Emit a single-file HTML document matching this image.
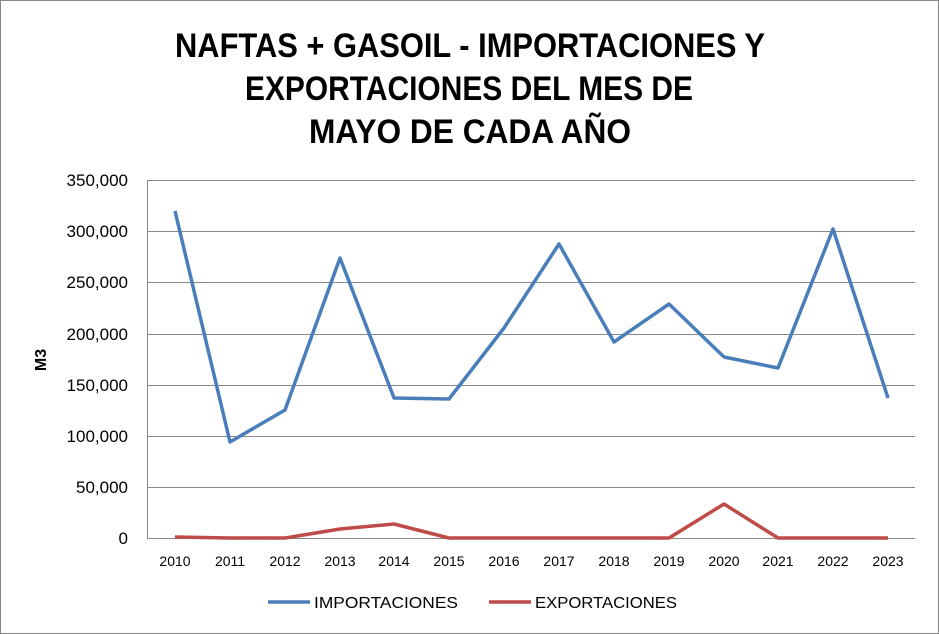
<!DOCTYPE html>
<html><head><meta charset="utf-8"><style>
html,body{margin:0;padding:0;background:#fff}
svg{display:block;font-family:"Liberation Sans",sans-serif}
</style></head><body>
<svg width="939" height="634" viewBox="0 0 939 634" xmlns="http://www.w3.org/2000/svg">
<rect x="0.5" y="0.5" width="938" height="633" fill="#fff" stroke="#888"/>
<g font-weight="bold" font-size="34" fill="#000">
<text x="175" y="57" textLength="590" lengthAdjust="spacingAndGlyphs">NAFTAS + GASOIL - IMPORTACIONES Y</text>
<text x="245" y="100" textLength="448" lengthAdjust="spacingAndGlyphs">EXPORTACIONES DEL MES DE</text>
<text x="309" y="143" textLength="322" lengthAdjust="spacingAndGlyphs">MAYO DE CADA AÑO</text>
</g>
<g stroke="#888" stroke-width="1">
<line x1="147" y1="180.5" x2="915" y2="180.5"/>
<line x1="147" y1="231.5" x2="915" y2="231.5"/>
<line x1="147" y1="282.5" x2="915" y2="282.5"/>
<line x1="147" y1="334.5" x2="915" y2="334.5"/>
<line x1="147" y1="385.5" x2="915" y2="385.5"/>
<line x1="147" y1="436.5" x2="915" y2="436.5"/>
<line x1="147" y1="487.5" x2="915" y2="487.5"/>
<line x1="147" y1="538.5" x2="915" y2="538.5"/>
<line x1="147.5" y1="180" x2="147.5" y2="538"/>
</g>
<g font-size="17" text-anchor="end" fill="#000">
<text x="128" y="186">350,000</text>
<text x="128" y="237">300,000</text>
<text x="128" y="288">250,000</text>
<text x="128" y="340">200,000</text>
<text x="128" y="391">150,000</text>
<text x="128" y="442">100,000</text>
<text x="128" y="493">50,000</text>
<text x="128" y="544">0</text>
</g>
<text x="46" y="360" font-size="16" font-weight="bold" transform="rotate(-90 46 360)" text-anchor="middle">M3</text>
<g font-size="14" text-anchor="middle" fill="#000">
<text x="175" y="566">2010</text><text x="230" y="566">2011</text><text x="285" y="566">2012</text><text x="340" y="566">2013</text><text x="394" y="566">2014</text><text x="449" y="566">2015</text><text x="504" y="566">2016</text><text x="559" y="566">2017</text><text x="614" y="566">2018</text><text x="669" y="566">2019</text><text x="724" y="566">2020</text><text x="778" y="566">2021</text><text x="833" y="566">2022</text><text x="888" y="566">2023</text>
</g>
<polyline fill="none" stroke="#4a7ebb" stroke-width="3.5" stroke-linejoin="round" points="175,211 230,442 285,410 340,258 394,398 449,399 504,328 559,244 614,342 669,304 724,357 778,368 833,229 888,398"/>
<polyline fill="none" stroke="#be4b48" stroke-width="3.5" stroke-linejoin="round" points="175,537 230,538 285,538 340,529 394,524 449,538 504,538 559,538 614,538 669,538 724,504 778,538 833,538 888,538"/>
<line x1="268" y1="602" x2="310" y2="602" stroke="#4a7ebb" stroke-width="3.5"/>
<text x="314" y="608" font-size="16" textLength="144" lengthAdjust="spacingAndGlyphs">IMPORTACIONES</text>
<line x1="489" y1="602" x2="531" y2="602" stroke="#be4b48" stroke-width="3.5"/>
<text x="535" y="608" font-size="16" textLength="142" lengthAdjust="spacingAndGlyphs">EXPORTACIONES</text>
</svg>
</body></html>
